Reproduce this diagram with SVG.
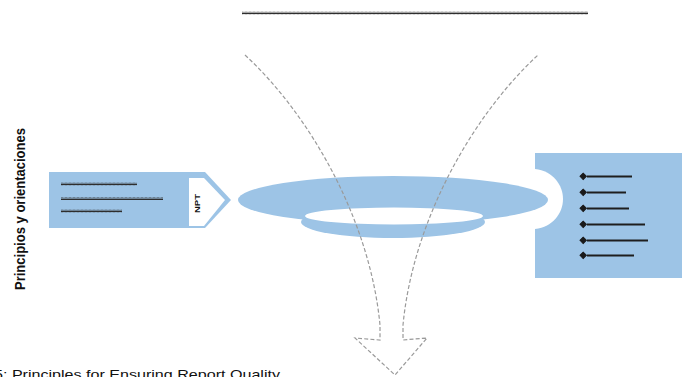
<svg xmlns="http://www.w3.org/2000/svg" width="682" height="377" viewBox="0 0 682 377">
  <defs>
    <pattern id="squig" width="4" height="3" patternUnits="userSpaceOnUse">
      <path d="M0,2.5 L1,0.5 L2,2.5 L3,0.5 L4,2.5" fill="none" stroke="#2e2e2e" stroke-width="1"/>
    </pattern>
  </defs>
  <style>
    .blue{fill:#9dc4e6}
    .white{fill:#ffffff}
    .sq{fill:url(#squig)}
    .bl{stroke:#1e1e1e;stroke-width:2}
    .dot{fill:#1a1a1a;stroke:#1a1a1a;stroke-width:1}
    .conn{fill:none;stroke:#9a9a9a;stroke-width:1.2;stroke-dasharray:4,2.2}
    .lbl{font-family:"Liberation Sans",Arial,sans-serif;font-weight:bold;fill:#111}
    .cap{font-family:"Liberation Sans",Arial,sans-serif;fill:#111}
  </style>
  <rect width="682" height="377" fill="#ffffff"/>

  <g id="title-line">
    <rect class="sq" x="242" y="11.5" width="346" height="3"/>
  </g>

  <g id="side-label">
    <text class="lbl" font-size="15.5" transform="translate(25,290) rotate(-90)" textLength="162" lengthAdjust="spacingAndGlyphs">Principios y orientaciones</text>
  </g>

  <g id="right-box">
    <rect class="blue" x="535" y="153" width="147" height="125"/>
    <path class="white" d="M535,169 C553,171 563,185 563,199 C563,213 553,227 535,229 Z"/>
    <g>
      <rect class="dot" x="581" y="174" width="4.5" height="4.5" transform="rotate(45 583.2 176.2)"/>
      <rect class="dot" x="581" y="190" width="4.5" height="4.5" transform="rotate(45 583.2 192.2)"/>
      <rect class="dot" x="581" y="206" width="4.5" height="4.5" transform="rotate(45 583.2 208.2)"/>
      <rect class="dot" x="581" y="222" width="4.5" height="4.5" transform="rotate(45 583.2 224.2)"/>
      <rect class="dot" x="581" y="238" width="4.5" height="4.5" transform="rotate(45 583.2 240.2)"/>
      <rect class="dot" x="581" y="253" width="4.5" height="4.5" transform="rotate(45 583.2 255.2)"/>
      <line class="bl" x1="587" y1="176.5" x2="632" y2="176.5"/>
      <line class="bl" x1="587" y1="192.5" x2="626" y2="192.5"/>
      <line class="bl" x1="587" y1="208.5" x2="629" y2="208.5"/>
      <line class="bl" x1="587" y1="224.5" x2="645" y2="224.5"/>
      <line class="bl" x1="587" y1="240.5" x2="648" y2="240.5"/>
      <line class="bl" x1="587" y1="255.5" x2="634" y2="255.5"/>
    </g>
  </g>

  <g id="left-box">
    <path class="blue" d="M49,172 L205,172 L231,200 L205,228 L49,228 Z"/>
    <path class="white" d="M189,178 L204,178 L225,200 L204,226 L189,226 Z"/>
    <rect class="sq" x="61" y="182.5" width="76" height="3"/>
    <rect class="sq" x="61" y="197" width="102" height="3"/>
    <rect class="sq" x="61" y="209.5" width="61" height="3"/>
    <text class="lbl" font-size="7" transform="translate(200,213) rotate(-90)" textLength="19" lengthAdjust="spacingAndGlyphs">NPT</text>
  </g>

  <g id="ring">
    <ellipse class="blue" cx="393" cy="222" rx="92" ry="16"/>
    <ellipse class="blue" cx="393" cy="200" rx="155" ry="24"/>
    <ellipse class="white" cx="394" cy="216" rx="89" ry="8.5"/>
  </g>

  <g id="connectors">
    <path class="conn" d="M245,55 C310,115 370,220 380,325 L380,340 L355,338 L395,375 L427,338 L403,340 L403,325 C413,220 473,115 538,55"/>
  </g>

  <g id="caption">
    <text class="cap" font-size="13" x="-6" y="379" textLength="286" lengthAdjust="spacingAndGlyphs">5: Principles for Ensuring Report Quality</text>
  </g>
</svg>
